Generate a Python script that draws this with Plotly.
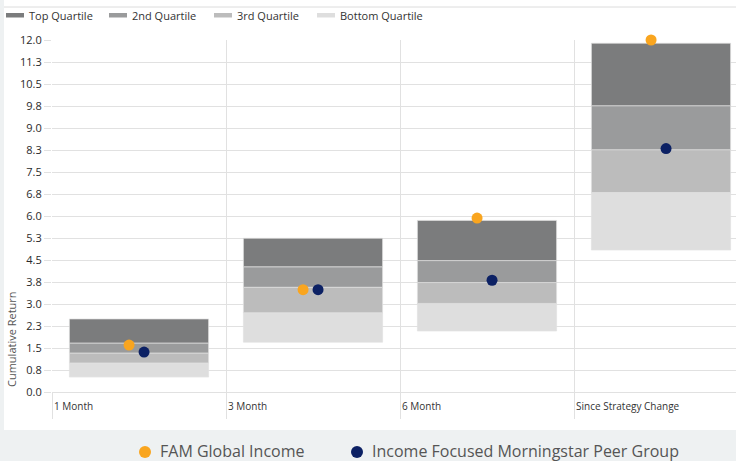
import plotly.graph_objects as go

# ---------------- data ----------------
categories = ["1 Month", "3 Month", "6 Month", "Since Strategy Change"]
quartile_names = ["Top Quartile", "2nd Quartile", "3rd Quartile", "Bottom Quartile"]

range_low = [0.51, 1.70, 2.08, 4.84]        # bottom of bottom quartile
bottom_q_top = [0.99, 2.70, 3.02, 6.80]
third_q_top = [1.33, 3.57, 3.73, 8.26]
second_q_top = [1.67, 4.27, 4.48, 9.76]
top_q_top = [2.49, 5.24, 5.85, 11.89]

fam_values = [1.60, 3.49, 5.93, 12.00]
peer_values = [1.36, 3.49, 3.81, 8.30]
series_names = ["FAM Global Income", "Income Focused Morningstar Peer Group"]

y_tick_labels = ["0.0", "0.8", "1.5", "2.3", "3.0", "3.8", "4.5", "5.3", "6.0",
                 "6.8", "7.5", "8.3", "9.0", "9.8", "10.5", "11.3", "12.0"]

# ---------------- styling ----------------
quartile_colors = ["#7b7c7d", "#9a9b9c", "#bcbcbc", "#dedede"]
series_colors = ["#f9a51f", "#0c2164"]
grid_color = "#e1e1e1"
font_family = "Open Sans, Noto Sans, sans-serif"

W, H = 736, 461
ML, MR, MT, MB = 52, 0, 40, 69
PW, PH = W - ML - MR, H - MT - MB


def px(x):
    return (x - ML) / PW


def py(y):
    return (H - MB - y) / PH


x_pos = list(range(len(categories)))
fig = go.Figure()

# stacked quartile bars (drawn as floating segments)
bounds = [range_low, bottom_q_top, third_q_top, second_q_top, top_q_top]
seg_names = quartile_names[::-1]
seg_colors = quartile_colors[::-1]
for k in range(4):
    lo = bounds[k]
    hi = bounds[k + 1]
    fig.add_trace(go.Bar(
        x=x_pos,
        y=[h - l for h, l in zip(hi, lo)],
        base=lo,
        width=0.8,
        name=seg_names[k],
        marker=dict(color=seg_colors[k], line=dict(color="rgba(225,225,225,0.7)", width=1)),
        showlegend=False,
        hoverinfo="skip",
    ))

dot_offsets = [-0.057, 0.029]
for name, vals, col, off in zip(series_names, [fam_values, peer_values], series_colors, dot_offsets):
    fig.add_trace(go.Scatter(
        x=[p + off for p in x_pos],
        y=vals,
        mode="markers",
        name=name,
        marker=dict(color=col, size=11),
        showlegend=False,
        hoverinfo="skip",
        cliponaxis=False,
    ))

shapes = []
annotations = []

# white card background
shapes.append(dict(type="rect", xref="paper", yref="paper",
                   x0=px(4), x1=px(W), y0=py(430), y1=py(0),
                   fillcolor="white", line=dict(width=0), layer="below"))
# top separator line
shapes.append(dict(type="line", xref="paper", yref="paper",
                   x0=px(4), x1=px(W), y0=py(7), y1=py(7),
                   line=dict(color="#dcdcdc", width=1), layer="below"))

# top legend (quartiles)
leg_sym_x = [6, 109, 214, 317]
for name, col, sx in zip(quartile_names, quartile_colors, leg_sym_x):
    shapes.append(dict(type="rect", xref="paper", yref="paper",
                       x0=px(sx), x1=px(sx + 18), y0=py(17.5), y1=py(13),
                       fillcolor=col, line=dict(width=0)))
    annotations.append(dict(xref="paper", yref="paper", x=px(sx + 21), y=py(15.5),
                            text=name, showarrow=False, xanchor="left", yanchor="middle",
                            font=dict(size=11, color="#333333", family=font_family)))

# bottom legend (series)
leg_dot_x = [145, 357]
for name, col, dx in zip(series_names, series_colors, leg_dot_x):
    shapes.append(dict(type="circle", xref="paper", yref="paper",
                       x0=px(dx - 6), x1=px(dx + 6), y0=py(458), y1=py(446),
                       fillcolor=col, line=dict(width=0)))
    annotations.append(dict(xref="paper", yref="paper", x=px(dx + 13), y=py(451),
                            text=name, showarrow=False, xanchor="left", yanchor="middle",
                            font=dict(size=16, color="#555555", family=font_family)))

# category labels (left-aligned at band start)
for i, cat in enumerate(categories):
    annotations.append(dict(xref="x", yref="paper", x=i - 0.5, y=0, yshift=-5,
                            text=cat, showarrow=False, xanchor="left", yanchor="top",
                            font=dict(size=10, color="#333333", family=font_family)))

# y-axis title
annotations.append(dict(xref="paper", yref="paper", x=px(11), y=py(339),
                        text="Cumulative Return", textangle=-90, showarrow=False,
                        xanchor="center", yanchor="middle",
                        font=dict(size=11, color="#555555", family=font_family)))

band_edges = [i - 0.5 for i in range(len(categories) + 1)]
y_tick_vals = [i * 0.75 for i in range(len(y_tick_labels))]

fig.update_layout(
    width=W, height=H,
    margin=dict(l=ML, r=MR, t=MT, b=MB, pad=0),
    paper_bgcolor="#eef1f2",
    plot_bgcolor="rgba(0,0,0,0)",
    barmode="overlay",
    showlegend=False,
    shapes=shapes,
    annotations=annotations,
    font=dict(family=font_family),
    xaxis=dict(
        range=[-0.5, -0.5 + PW / 174.0],
        tickmode="array", tickvals=band_edges, showticklabels=False,
        ticks="outside", ticklen=26, tickcolor=grid_color, tickwidth=1,
        showgrid=True, gridcolor=grid_color, gridwidth=1,
        zeroline=False, showline=True, linecolor=grid_color, linewidth=1,
        fixedrange=True,
    ),
    yaxis=dict(
        range=[0, 12],
        tickmode="array", tickvals=y_tick_vals, ticktext=y_tick_labels,
        ticks="outside", ticklen=7, tickcolor=grid_color, tickwidth=1,
        showgrid=True, gridcolor=grid_color, gridwidth=1,
        zeroline=False, showline=False,
        tickfont=dict(size=11, color="#2a2a2a", family=font_family),
        fixedrange=True,
    ),
)

fig.write_html(
    "out.html",
    config={"displayModeBar": False},
    post_script="document.body.style.margin='0px';document.body.style.overflow='hidden';",
)
